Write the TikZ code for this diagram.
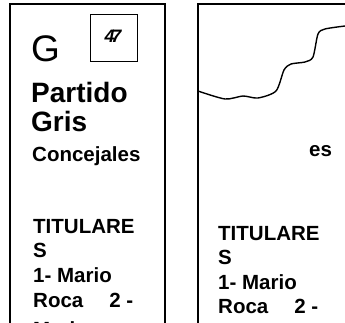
\documentclass[tikz,border=0pt]{standalone}
\usepackage{fontspec}
\setmainfont{Liberation Sans}
\begin{document}
\begin{tikzpicture}[x=1pt,y=-1pt,
  txt/.style={inner sep=0pt, anchor=base west},
  big/.style={font=\fontsize{28}{30}\selectfont\bfseries},
  mid/.style={font=\fontsize{20.5}{24}\selectfont\bfseries},
  frame/.style={line width=2pt},
  curve/.style={line width=1.4pt}]
\useasboundingbox (0,0) rectangle (345,323);
\begin{scope}
\clip (0,0) rectangle (345,323);
% left column frame
\draw[frame] (10,340) -- (10,4) -- (165,4) -- (165,340);
% right column frame
\draw[frame] (198,340) -- (198,4) -- (360,4);
% number box
\node[draw, line width=1pt, minimum width=47pt, minimum height=47pt, inner sep=0pt] (numbox) at (113.5,38.5) {};
\node[inner sep=0pt, font=\fontsize{18}{18}\selectfont\bfseries\itshape] (num) at (113,36) {4\kern-3.5pt 7};
% left column texts
\node[txt, font=\fontsize{37}{37}\selectfont] (g) at (31,62) {G};
\node[txt, big] (l1) at (31,103) {Partido};
\node[txt, big] (l2) at (31,132) {Gris};
\node[txt, mid] (l3) at (32,161) {Concejales};
\node[txt, mid] (l4) at (33,233) {TITULARE};
\node[txt, mid] (l5) at (33,257) {S};
\node[txt, mid] (l6) at (33,282) {1- Mario};
\node[txt, mid] (l7) at (33,307) {Roca\hspace{26pt}2 -};
\node[txt, mid] (l8) at (33,336) {Mario};
% right column
\draw[curve] plot[smooth, tension=0.45] coordinates {(198,91) (225,99) (243,96) (258,98) (276,91) (284,70) (291,64) (305,62) (313,57) (318,34) (325,29) (345,26)};
\node[txt, mid] (es) at (309,157) {es};
\node[txt, mid] (r4) at (218,240) {TITULARE};
\node[txt, mid] (r5) at (218,264) {S};
\node[txt, mid] (r6) at (218,289) {1- Mario};
\node[txt, mid] (r7) at (218,313) {Roca\hspace{26pt}2 -};
\end{scope}
\end{tikzpicture}
\end{document}
